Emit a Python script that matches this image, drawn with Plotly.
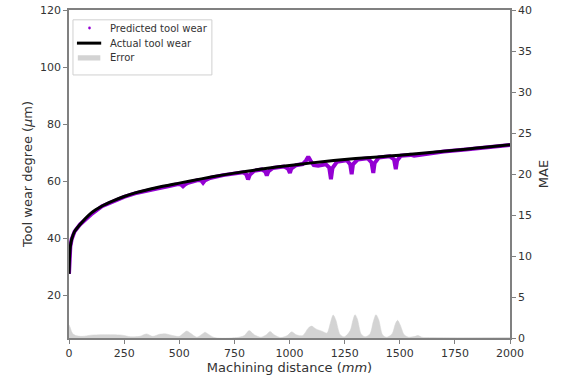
import plotly.graph_objects as go

# Actual tool wear
act_x = [0, 3, 6, 12, 25, 50, 100, 150, 200, 250, 300, 400, 500, 600, 700, 800, 900, 1000,
         1100, 1200, 1300, 1400, 1500, 1600, 1700, 1800, 1900, 2000]
act_y = [27.5, 34.0, 37.0, 39.6, 42.3, 44.8, 48.8, 51.3, 53.1, 54.6, 55.9, 57.8, 59.3, 60.8,
         62.2, 63.4, 64.5, 65.5, 66.4, 67.2, 67.9, 68.5, 69.1, 69.8, 70.5, 71.2, 72.0, 72.8]

# Predicted tool wear
pred_x = [0, 3, 6, 12, 25, 50, 100, 150, 200, 250, 300, 350, 400, 450, 495, 508, 517, 526, 540,
          585, 600, 608, 616, 640, 700, 790, 804, 812, 820, 840, 875, 890, 897, 904, 925, 975,
          994, 1002, 1008, 1030, 1060, 1075, 1085, 1095, 1110, 1130, 1165, 1180, 1188, 1195,
          1215, 1260, 1275, 1282, 1288, 1310, 1355, 1372, 1380, 1386, 1405, 1455, 1474, 1482,
          1488, 1505, 1550, 1565, 1575, 1590, 1650, 1700, 1800, 1900, 2000]
pred_y = [27.5, 34.0, 37.0, 39.6, 42.3, 44.8, 48.3, 51.2, 53.0, 54.5, 55.7, 56.4, 57.4, 58.2,
          59.0, 58.8, 58.2, 58.8, 59.4, 60.4, 60.2, 59.4, 60.2, 61.1, 62.1, 63.1, 62.4, 60.6,
          62.2, 63.6, 64.1, 63.4, 62.0, 63.4, 64.6, 65.1, 64.3, 62.9, 64.4, 65.6, 66.0, 67.2,
          68.6, 67.2, 65.6, 65.4, 65.9, 64.8, 60.7, 64.6, 66.8, 67.3, 65.9, 62.4, 65.9, 67.6,
          68.0, 66.6, 62.9, 66.3, 68.3, 68.7, 67.6, 64.2, 67.2, 68.9, 69.2, 68.9, 69.0, 69.5,
          70.0, 70.4, 71.1, 71.9, 72.7]

# Error (MAE, right axis)
err_x = [0, 5, 15, 30, 60, 100, 150, 200, 240, 280, 320, 352, 380, 410, 440, 470, 500, 520,
         534, 550, 580, 605, 617, 630, 660, 760, 795, 817, 840, 870, 895, 912, 930, 960, 990,
         1010, 1030, 1060, 1085, 1100, 1120, 1150, 1170, 1185, 1198, 1210, 1230, 1250, 1275,
         1288, 1297, 1308, 1325, 1343, 1365, 1380, 1392, 1405, 1422, 1440, 1465, 1480, 1490,
         1502, 1520, 1540, 1570, 1583, 1600, 1650, 2000]
err_y = [1.6, 1.3, 0.6, 0.3, 0.2, 0.35, 0.4, 0.4, 0.35, 0.15, 0.2, 0.5, 0.2, 0.45, 0.5, 0.3,
         0.2, 0.6, 0.85, 0.6, 0.1, 0.5, 0.7, 0.5, 0.05, 0.05, 0.3, 0.9, 0.4, 0.1, 0.4, 0.8, 0.4,
         0.05, 0.3, 0.75, 0.4, 0.3, 1.2, 1.45, 1.1, 0.8, 0.6, 1.8, 2.8, 2.2, 0.4, 0.15, 0.9,
         2.2, 2.85, 2.3, 0.5, 0.15, 0.5, 2.0, 2.85, 2.2, 0.4, 0.1, 0.5, 1.7, 2.15, 1.6, 0.4,
         0.1, 0.2, 0.3, 0.1, 0.05, 0.05]

x_ticks = [0, 250, 500, 750, 1000, 1250, 1500, 1750, 2000]
y_ticks = [20, 40, 60, 80, 100, 120]
y2_ticks = [0, 5, 10, 15, 20, 25, 30, 35, 40]
legend_labels = ["Predicted tool wear", "Actual tool wear", "Error"]

PURPLE = "#9400D3"
GRAY = "#d3d3d3"
AXC = "#808080"
TXT = "#333333"
FONT = "DejaVu Sans"

fig = go.Figure()

fig.add_trace(go.Scatter(
    x=err_x, y=err_y, yaxis="y2", mode="lines", fill="tozeroy",
    line=dict(color=GRAY, width=0.5, shape="spline", smoothing=0.8),
    fillcolor=GRAY, name=legend_labels[2], showlegend=False))

fig.add_trace(go.Scatter(
    x=pred_x, y=pred_y, mode="lines",
    line=dict(color=PURPLE, width=4), name=legend_labels[0], showlegend=False))

fig.add_trace(go.Scatter(
    x=act_x, y=act_y, mode="lines",
    line=dict(color="black", width=3, shape="spline", smoothing=0.6),
    name=legend_labels[1], showlegend=False))

# Legend drawn in paper coordinates (matplotlib-like compact layout)
shapes = [
    dict(type="rect", xref="paper", yref="paper", x0=0.009, x1=0.324, y0=0.802, y1=0.970,
         line=dict(color="#d0d0d0", width=1), fillcolor="rgba(255,255,255,0.85)", layer="above"),
    dict(type="circle", xref="paper", yref="paper", x0=0.0435, x1=0.0495, y0=0.9405, y1=0.9495,
         line=dict(color=PURPLE, width=0), fillcolor=PURPLE, layer="above"),
    dict(type="line", xref="paper", yref="paper", x0=0.018, x1=0.073, y0=0.899, y1=0.899,
         line=dict(color="black", width=3), layer="above"),
    dict(type="rect", xref="paper", yref="paper", x0=0.020, x1=0.071, y0=0.846, y1=0.862,
         line=dict(width=0), fillcolor=GRAY, layer="above"),
]
annotations = [
    dict(text=lab, xref="paper", yref="paper", x=0.088, y=yy, xanchor="left", yanchor="middle",
         showarrow=False, font=dict(size=10, color=TXT))
    for lab, yy in zip(legend_labels, [0.945, 0.899, 0.854])
]

fig.update_layout(
    template="none",
    width=573, height=382,
    margin=dict(l=69, r=63, t=10, b=44, autoexpand=False),
    paper_bgcolor="white", plot_bgcolor="white",
    font=dict(family=FONT, size=11, color=TXT),
    showlegend=False,
    shapes=shapes, annotations=annotations,
    xaxis=dict(range=[0, 2000], tickvals=x_ticks, showgrid=False, zeroline=False,
               showline=True, linecolor=AXC, linewidth=1.5, mirror=True, automargin=False,
               ticks="outside", ticklen=4, tickcolor=AXC, tickwidth=1,
               title=dict(text="Machining distance (<i>mm</i>)", standoff=4)),
    yaxis=dict(range=[5, 120], tickvals=y_ticks, showgrid=False, zeroline=False,
               showline=True, linecolor=AXC, linewidth=1.5, automargin=False,
               ticks="outside", ticklen=4, tickcolor=AXC, tickwidth=1,
               title=dict(text="Tool wear degree (<i>μ</i>m)", standoff=4)),
    yaxis2=dict(range=[0, 40], tickvals=y2_ticks, overlaying="y", side="right",
                showgrid=False, zeroline=False, automargin=False,
                showline=True, linecolor=AXC, linewidth=1.5,
                ticks="outside", ticklen=4, tickcolor=AXC, tickwidth=1,
                title=dict(text="MAE", standoff=8)),
)

fig.write_html("out.html")
